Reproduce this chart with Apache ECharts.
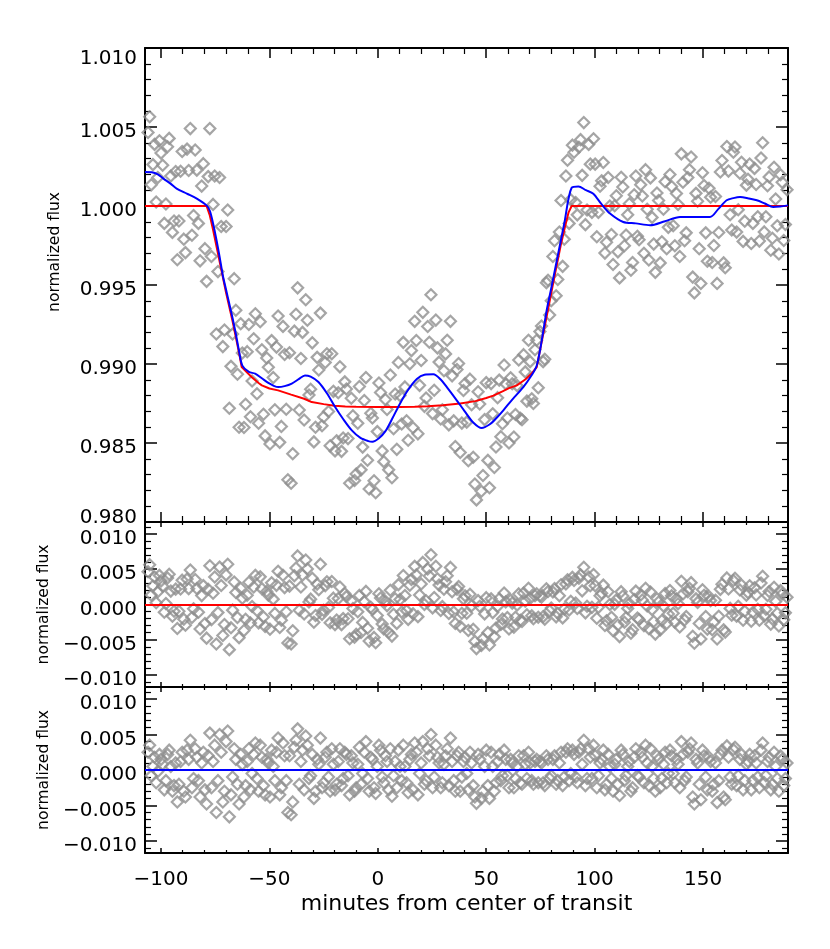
<!DOCTYPE html>
<html>
<head>
<meta charset="utf-8">
<title>transit light curve</title>
<script src="https://cdn.jsdelivr.net/npm/echarts@6/dist/echarts.min.js"></script>
<style>
  html, body { margin: 0; padding: 0; background: #fff; }
  #chart { width: 830px; height: 949px; }
</style>
</head>
<body>
<div id="chart"></div>
<script>
// time of each exposure, minutes from center of transit
const minutes = [
  -106, -104.5, -103, -101.5, -100, -98.5, -97, -95.5, -94, -92.5, -91, -89.5, -88, -86.5, -85, -83.5, -82, -80.5, -79,
  -77.5, -76, -74.5, -73, -71.5, -70, -68.5, -67, -65.5, -64, -62.5,
  -61, -59.5, -58, -56.5, -55, -53.5, -52, -50.5, -49, -47.5, -46, -44.5, -43, -41.5, -40,
  -38.5, -37, -35.5, -34, -32.5, -31, -29.5, -28, -26.5, -25, -23.5, -22, -20.5,
  -19, -17.5, -16, -14.5, -13, -11.5, -10, -8.5, -7, -5.5, -4, -2.5, -1, 0.5,
  2, 3.5, 5, 6.5, 8, 9.5, 11, 12.5, 14, 15.5, 17, 18.5, 20, 21.5, 23,
  24.5, 26, 27.5, 29, 30.5, 32, 33.5, 35, 36.5, 38, 39.5, 41, 42.5, 44, 45.5,
  47, 48.5, 50, 51.5, 53, 54.5, 56, 57.5, 59, 60.5, 62, 63.5, 65, 66.5, 68, 69.5, 71, 72.5,
  74, 75.5, 77, 78.5, 80, 81.5, 83, 84.5, 86, 87.5, 89,
  90.5, 92, 93.5, 95, 96.5, 98, 99.5, 101, 102.5, 104, 105.5, 107, 108.5, 110, 111.5, 113, 114.5, 116, 117.5, 119,
  120.5, 122, 123.5, 125, 126.5, 128, 129.5, 131, 132.5, 134, 135.5, 137, 138.5, 140, 141.5, 143, 144.5, 146, 147.5, 149,
  150.5, 152, 153.5, 155, 156.5, 158, 159.5, 161, 162.5, 164, 165.5, 167, 168.5, 170, 171.5, 173, 174.5, 176, 177.5, 179,
  180.5, 182, 183.5, 185, 186.5, 188,
  // second half of the cadence
  -105.25, -103.75, -102.25, -100.75, -99.25, -97.75, -96.25, -94.75, -93.25, -91.75, -90.25, -88.75, -87.25, -85.75, -84.25, -82.75, -81.25, -79.75, -78.25,
  -76.75, -75.25, -73.75, -72.25, -70.75, -69.25, -67.75, -66.25, -64.75, -63.25, -61.75,
  -60.25, -58.75, -57.25, -55.75, -54.25, -52.75, -51.25, -49.75, -48.25, -46.75, -45.25, -43.75, -42.25, -40.75, -39.25,
  -37.75, -36.25, -34.75, -33.25, -31.75, -30.25, -28.75, -27.25, -25.75, -24.25, -22.75, -21.25, -19.75,
  -18.25, -16.75, -15.25, -13.75, -12.25, -10.75, -9.25, -7.75, -6.25, -4.75, -3.25, -1.75, -0.25, 1.25,
  2.75, 4.25, 5.75, 7.25, 8.75, 10.25, 11.75, 13.25, 14.75, 16.25, 17.75, 19.25, 20.75, 22.25, 23.75,
  25.25, 26.75, 28.25, 29.75, 31.25, 32.75, 34.25, 35.75, 37.25, 38.75, 40.25, 41.75, 43.25, 44.75, 46.25,
  47.75, 49.25, 50.75, 52.25, 53.75, 55.25, 56.75, 58.25, 59.75, 61.25, 62.75, 64.25, 65.75, 67.25, 68.75, 70.25, 71.75, 73.25,
  74.75, 76.25, 77.75, 79.25, 80.75, 82.25, 83.75, 85.25, 86.75, 88.25, 89.75,
  91.25, 92.75, 94.25, 95.75, 97.25, 98.75, 100.25, 101.75, 103.25, 104.75, 106.25, 107.75, 109.25, 110.75, 112.25, 113.75, 115.25, 116.75, 118.25, 119.75,
  121.25, 122.75, 124.25, 125.75, 127.25, 128.75, 130.25, 131.75, 133.25, 134.75, 136.25, 137.75, 139.25, 140.75, 142.25, 143.75, 145.25, 146.75, 148.25, 149.75,
  151.25, 152.75, 154.25, 155.75, 157.25, 158.75, 160.25, 161.75, 163.25, 164.75, 166.25, 167.75, 169.25, 170.75, 172.25, 173.75, 175.25, 176.75, 178.25, 179.75,
  181.25, 182.75, 184.25, 185.75, 187.25, 188.75
]

// normalized flux (top panel)
const flux = [
  1.00465, 1.00134, 1.0039, 1.0018, 1.00335, 0.9989, 1.00375, 1.0019, 0.99905, 0.9966, 1.0022, 0.9979, 1.0036, 1.0049, 0.9994, 1.00227, 0.99653, 1.00268, 0.99523,
  1.0049, 1.0001, 0.9919, 1.0018, 0.9911, 0.9987, 0.9872, 0.9919, 0.9934, 0.986, 0.9907,
  0.98745, 0.9925, 0.98892, 0.99318, 0.98625, 0.9909, 0.98545, 0.9898, 0.99148, 0.9871, 0.99304, 0.98605, 0.9906, 0.98267, 0.98245,
  0.99208, 0.99482, 0.99035, 0.98646, 0.99277, 0.9884, 0.98507, 0.99042, 0.99322, 0.98665, 0.99065, 0.98482, 0.98827,
  0.98514, 0.98982, 0.98532, 0.98842, 0.98245, 0.98672, 0.98304, 0.98857, 0.98474, 0.98914, 0.98209, 0.98658, 0.98185, 0.9888,
  0.9845, 0.98775, 0.9833, 0.9828, 0.9881, 0.9901, 0.9862, 0.98855, 0.98517, 0.99085, 0.9927, 0.98558, 0.99022, 0.98732, 0.99237,
  0.99438, 0.98834, 0.99102, 0.98652, 0.98957, 0.9915, 0.9927, 0.9864, 0.98965, 0.9844, 0.98832, 0.98632, 0.98904, 0.9841, 0.9814,
  0.98747, 0.98294, 0.98882, 0.98217, 0.98685, 0.98475, 0.98898, 0.98622, 0.98875, 0.985, 0.98875, 0.9868, 0.99025, 0.98647, 0.9895, 0.9915, 0.9878, 0.9909,
  0.9885, 0.9924, 0.9903, 0.9953, 0.994, 0.9978, 0.99535, 1.00035, 0.9979, 1.0029, 1.0004,
  1.0034, 0.99944, 1.0042, 1.00528, 0.99975, 1.00265, 1.00426, 0.99805, 1.00125, 1.00275, 0.9977, 1.0, 0.9963, 1.00065, 0.99545, 1.0012, 0.99816, 1.00014, 0.99642, 1.0019,
  0.99787, 1.00063, 1.0023, 0.99658, 0.99928, 0.9958, 1.00035, 0.99774, 1.00154, 0.99865, 1.00123, 0.99748, 1.0001, 1.0033, 0.9978, 1.0018, 1.0031, 0.9945, 1.0003, 0.9951,
  1.0013, 0.9965, 1.00055, 0.9975, 0.9951, 1.00215, 0.9964, 1.00377, 0.99945, 1.0034, 0.99835, 1.00207, 0.99776, 1.00132, 1.00266, 0.9989, 1.00136, 0.99778, 1.004, 0.99932,
  1.00184, 0.99796, 1.00044, 0.99696, 1.0015, 0.99883,
  1.00565, 1.00262, 1.00025, 1.00413, 1.00258, 1.00013, 1.00428, 0.99833, 1.00218, 0.99905, 1.00345, 0.99705, 1.00225, 0.99815, 1.00354, 0.9989, 1.00126, 0.9973, 1.00186,
  0.9968, 1.0019, 0.99585, 0.9987, 0.99215, 0.99975, 0.98985, 0.9954, 0.98935, 0.99255, 0.98598,
  0.99078, 0.98666, 0.9916, 0.98812, 0.99268, 0.98682, 0.99038, 0.98494, 0.98914, 0.99107, 0.98504, 0.99238, 0.98714, 0.99071, 0.98432,
  0.99315, 0.98709, 0.992, 0.99407, 0.98804, 0.99134, 0.986, 0.98962, 0.98609, 0.9901, 0.98699, 0.99065, 0.9845,
  0.98818, 0.98447, 0.98887, 0.98528, 0.98783, 0.98263, 0.98625, 0.9833, 0.98769, 0.98391, 0.98688, 0.98261, 0.98572, 0.9882,
  0.98382, 0.98712, 0.9893, 0.9859, 0.9846, 0.988, 0.99137, 0.98641, 0.99001, 0.98597, 0.99149, 0.98865, 0.99327, 0.98785, 0.99138,
  0.98686, 0.99278, 0.99012, 0.9871, 0.99064, 0.98615, 0.98925, 0.98478, 0.99003, 0.98626, 0.98877, 0.98388, 0.98742, 0.9824, 0.98824,
  0.98195, 0.98648, 0.9839, 0.98876, 0.98345, 0.98787, 0.9854, 0.98994, 0.98658, 0.98913, 0.98538, 0.98863, 0.98656, 0.99059, 0.98765, 0.99015, 0.9875, 0.9915,
  0.99205, 0.99015, 0.99515, 0.9931, 0.9968, 0.99432, 0.99835, 0.99618, 1.0019, 0.9989, 1.00385,
  1.00022, 1.00372, 1.00194, 0.99882, 1.0039, 0.9996, 1.00265, 0.9996, 1.0016, 0.99702, 1.0018, 0.9982, 1.00002, 0.9971, 1.00182, 0.99748, 0.99945, 0.99593, 1.00071, 0.99808,
  1.00135, 0.99701, 0.99979, 1.00178, 0.99759, 1.00082, 0.9964, 0.99979, 0.9973, 1.00199, 0.99875, 1.00079, 0.9968, 1.0015, 0.9983, 1.0023, 0.9955, 1.0008, 0.9973, 1.0021,
  0.9983, 1.00112, 0.99642, 1.0006, 0.99832, 1.00288, 0.99609, 1.00221, 0.99848, 1.00373, 0.99976, 1.00277, 0.99904, 1.00169, 0.99763, 1.00238, 0.99932, 1.00304, 0.99836, 1.00128,
  0.9972, 1.00245, 0.99875, 1.00198, 0.99782, 1.00103
]

// flux minus transit model (middle panel)
const residTransit = [
  0.00465, 0.00134, 0.0039, 0.0018, 0.00335, -0.0011, 0.00375, 0.0019, -0.00095, -0.0034, 0.0022, -0.0021, 0.0036, 0.0049, -0.0006, 0.00227, -0.00347, 0.00268, -0.00477,
  0.0055, 0.0016, -0.0056, 0.0053, -0.0044, 0.0042, -0.0064, -0.0008, 0.0017, -0.0047, 0.0009,
  -0.0021, 0.00315, -0.00028, 0.00413, -0.0026, 0.00225, -0.0031, 0.00133, 0.00308, -0.00126, 0.00471, -0.00222, 0.0024, -0.00546, -0.00561,
  0.00408, 0.00689, 0.00249, -0.00134, 0.00505, 0.00076, -0.00251, 0.00289, 0.00572, -0.00081, 0.00323, -0.00258, 0.0009,
  -0.00221, 0.00249, -0.002, 0.00112, -0.00485, -0.00056, -0.00424, 0.00129, -0.00254, 0.00186, -0.00519, -0.0007, -0.00543, 0.00152,
  -0.00278, 0.00047, -0.00398, -0.00448, 0.00082, 0.00282, -0.00108, 0.00127, -0.00211, 0.00356, 0.00541, -0.00172, 0.00292, 0.00001, 0.00505,
  0.00705, 0.00099, 0.00366, -0.00086, 0.00217, 0.00408, 0.00526, -0.00105, 0.00218, -0.0031, 0.0008, -0.00123, 0.00146, -0.00352, -0.00625,
  -0.00025, -0.00484, 0.00097, -0.00575, -0.00115, -0.00333, 0.00081, -0.00205, 0.00038, -0.00347, 0.0002, -0.00182, 0.0015, -0.0024, 0.00048, 0.0023, -0.0016, 0.00125,
  -0.0018, 0.00105, -0.0021, 0.00185, -0.0005, 0.00225, -0.00125, 0.0028, -0.00065, 0.0035, 0.00045,
  0.0034, -0.00056, 0.0042, 0.00528, -0.00025, 0.00265, 0.00426, -0.00195, 0.00125, 0.00275, -0.0023, 0, -0.0037, 0.00065, -0.00455, 0.0012, -0.00184, 0.00014, -0.00358, 0.0019,
  -0.00213, 0.00063, 0.0023, -0.00342, -0.00072, -0.0042, 0.00035, -0.00226, 0.00154, -0.00135, 0.00123, -0.00252, 0.0001, 0.0033, -0.0022, 0.0018, 0.0031, -0.0055, 0.0003, -0.0049,
  0.0013, -0.0035, 0.00055, -0.0025, -0.0049, 0.00215, -0.0036, 0.00377, -0.00055, 0.0034, -0.00165, 0.00207, -0.00224, 0.00132, 0.00266, -0.0011, 0.00136, -0.00222, 0.004, -0.00068,
  0.00184, -0.00204, 0.00044, -0.00304, 0.0015, -0.00117,
  0.00565, 0.00262, 0.00025, 0.00413, 0.00258, 0.00013, 0.00428, -0.00167, 0.00218, -0.00095, 0.00345, -0.00295, 0.00225, -0.00185, 0.00354, -0.0011, 0.00126, -0.0027, 0.00216,
  -0.00215, 0.0039, -0.00115, 0.0027, -0.00285, 0.0057, -0.0033, 0.0032, -0.00185, 0.0023, -0.0037,
  0.00132, -0.00261, 0.00248, -0.00084, 0.00392, -0.00178, 0.00186, -0.0035, 0.00076, 0.00272, -0.00326, 0.00414, -0.00103, 0.00261, -0.00372,
  0.00518, -0.00081, 0.00417, 0.0063, 0.00035, 0.00372, -0.00156, 0.0021, -0.0014, 0.00266, -0.00043, 0.00326, -0.00285,
  0.00084, -0.00285, 0.00156, -0.00202, 0.00054, -0.00465, -0.00103, -0.00398, 0.00041, -0.00337, -0.0004, -0.00467, -0.00156, 0.00092,
  -0.00346, -0.00016, 0.00202, -0.00138, -0.00268, 0.00072, 0.0041, -0.00087, 0.00273, -0.00131, 0.0042, 0.00135, 0.00597, 0.00053, 0.00405,
  -0.00048, 0.00542, 0.00275, -0.0003, 0.00322, -0.00128, 0.0018, -0.00269, 0.00254, -0.00125, 0.00124, -0.00368, -0.00018, -0.00523, 0.00055,
  -0.0058, -0.00133, -0.00399, 0.0008, -0.00459, -0.00026, -0.00282, 0.00162, -0.00184, 0.00062, -0.00321, -0.00006, -0.00225, 0.00164, -0.00146, 0.00085, -0.00202, 0.00152,
  0.00122, -0.00172, 0.00222, -0.00088, 0.00178, -0.00175, 0.00125, -0.0019, 0.00292, -0.00078, 0.00385,
  0.00022, 0.00372, 0.00194, -0.00118, 0.0039, -0.0004, 0.00265, -0.0004, 0.0016, -0.00298, 0.0018, -0.0018, 0.00002, -0.0029, 0.00182, -0.00252, -0.00055, -0.00407, 0.00071, -0.00192,
  0.00135, -0.00299, -0.00021, 0.00178, -0.00241, 0.00082, -0.0036, -0.00021, -0.0027, 0.00199, -0.00125, 0.00079, -0.0032, 0.0015, -0.0017, 0.0023, -0.0045, 0.0008, -0.0027, 0.0021,
  -0.0017, 0.00112, -0.00358, 0.0006, -0.00168, 0.00288, -0.00391, 0.00221, -0.00152, 0.00373, -0.00024, 0.00277, -0.00096, 0.00169, -0.00237, 0.00238, -0.00068, 0.00304, -0.00164, 0.00128,
  -0.0028, 0.00245, -0.00125, 0.00198, -0.00218, 0.00103
]

// flux minus smooth fit (bottom panel)
const residSmooth = [
  0.0025, -0.0008, 0.0018, -0.0002, 0.0015, -0.0028, 0.0022, 0.0005, -0.0022, -0.0045, 0.0012, -0.003, 0.0028, 0.0042, -0.0012, 0.0018, -0.0038, 0.0025, -0.0048,
  0.0052, 0.0012, -0.006, 0.005, -0.0045, 0.004, -0.0066, -0.001, 0.0015, -0.0048, 0.0008,
  -0.0022, 0.003, -0.0005, 0.0038, -0.003, 0.0018, -0.0035, 0.001, 0.0028, -0.0015, 0.0045, -0.0025, 0.002, -0.006, -0.0063,
  0.0032, 0.0058, 0.0012, -0.0028, 0.0035, -0.0008, -0.004, 0.0015, 0.0045, -0.0018, 0.0025, -0.003, 0.0008,
  -0.002, 0.003, -0.0012, 0.0022, -0.0035, 0.001, -0.0025, 0.0032, -0.0005, 0.004, -0.003, 0.0015, -0.0033, 0.0035,
  -0.001, 0.002, -0.0028, -0.0037, 0.0012, 0.0028, -0.0015, 0.0005, -0.0032, 0.0022, 0.0038, -0.0035, 0.001, -0.002, 0.003,
  0.005, -0.001, 0.0018, -0.0025, 0.0008, 0.003, 0.0045, -0.0015, 0.002, -0.003, 0.0012, -0.0005, 0.0025, -0.0022, -0.0047,
  0.0015, -0.003, 0.0028, -0.004, 0.0005, -0.0018, 0.0022, -0.0008, 0.0015, -0.0025, 0.001, -0.0012, 0.002, -0.002, 0.0008, 0.0025, -0.0015, 0.0012,
  -0.0018, 0.001, -0.0022, 0.0015, -0.0008, 0.002, -0.0015, 0.0025, -0.001, 0.003, -0.0005,
  0.0022, -0.0018, 0.003, 0.0042, -0.0012, 0.0018, 0.0035, -0.0025, 0.001, 0.0028, -0.002, 0.0005, -0.003, 0.0015, -0.0036, 0.0022, -0.0008, 0.0012, -0.0025, 0.003,
  -0.001, 0.0018, 0.0035, -0.0022, 0.0005, -0.003, 0.0015, -0.0012, 0.0025, -0.0005, 0.002, -0.0018, 0.0008, 0.004, -0.0015, 0.0025, 0.0038, -0.0048, 0.001, -0.0042,
  0.002, -0.0028, 0.0012, -0.002, -0.0046, 0.0022, -0.0038, 0.0034, -0.001, 0.0029, -0.0022, 0.0015, -0.0028, 0.0008, 0.0022, -0.0015, 0.001, -0.0025, 0.0038, -0.0008,
  0.0018, -0.002, 0.0005, -0.003, 0.0015, -0.0012,
  0.0035, 0.0005, -0.0018, 0.0022, 0.0008, -0.0015, 0.0028, -0.003, 0.001, -0.002, 0.0025, -0.0038, 0.0015, -0.0025, 0.003, -0.0015, 0.001, -0.0028, 0.002,
  -0.0025, 0.0035, -0.0015, 0.0025, -0.003, 0.0055, -0.0035, 0.003, -0.002, 0.0022, -0.0038,
  0.0012, -0.0028, 0.0022, -0.0012, 0.0035, -0.0022, 0.0015, -0.0038, 0.0005, 0.0025, -0.0035, 0.0038, -0.0015, 0.002, -0.0045,
  0.0042, -0.002, 0.0028, 0.0048, -0.0012, 0.0022, -0.003, 0.0008, -0.0025, 0.0018, -0.001, 0.003, -0.0028,
  0.0012, -0.0022, 0.0025, -0.0008, 0.002, -0.003, 0.0008, -0.002, 0.0025, -0.0012, 0.0018, -0.0025, 0.0005, 0.0028,
  -0.0018, 0.0012, 0.003, -0.0008, -0.0025, 0.0005, 0.0035, -0.0018, 0.0015, -0.0028, 0.0025, -0.0005, 0.004, -0.0015, 0.002,
  -0.0025, 0.0035, 0.001, -0.0018, 0.002, -0.0022, 0.0012, -0.003, 0.0025, -0.001, 0.0018, -0.0028, 0.001, -0.0038, 0.0022,
  -0.004, 0.0005, -0.0022, 0.0025, -0.003, 0.0012, -0.0015, 0.0028, -0.0008, 0.0015, -0.0025, 0.0005, -0.0018, 0.002, -0.0012, 0.001, -0.002, 0.0015,
  0.0012, -0.0018, 0.002, -0.0012, 0.0015, -0.002, 0.001, -0.0022, 0.0025, -0.0015, 0.0028,
  -0.001, 0.0025, 0.0008, -0.0022, 0.003, -0.0012, 0.002, -0.0008, 0.0015, -0.0028, 0.0022, -0.0012, 0.0008, -0.002, 0.0028, -0.0015, 0.0005, -0.003, 0.0018, -0.0008,
  0.0025, -0.0018, 0.001, 0.003, -0.0012, 0.002, -0.0025, 0.0008, -0.0018, 0.0028, -0.0005, 0.0015, -0.0025, 0.0022, -0.001, 0.003, -0.0038, 0.0015, -0.002, 0.0028,
  -0.001, 0.0018, -0.003, 0.001, -0.0015, 0.0028, -0.0042, 0.0018, -0.002, 0.0032, -0.0008, 0.0022, -0.0015, 0.0012, -0.0028, 0.002, -0.001, 0.0028, -0.0018, 0.0012,
  -0.0028, 0.0025, -0.0012, 0.002, -0.0022, 0.001
]

// transit model (red)
const transitMin = [
  -107.4, -79, -77.5, -76, -74.5, -73, -71.5, -70, -68.5, -67, -65.5, -64, -62.8, -58, -55, -53.5, -50, -46, -40, -34,
  -30.5, -25, -20, -15, -10, 0, 10, 17, 23, 30, 38, 45, 50, 53.3, 57.5, 60.5, 64.1, 68, 71, 73.3,
  75.5, 78, 81.5, 84.5, 86.3, 88, 89.4, 189.2
]
const transitFlux = [
  1.0, 1.0, 0.9994, 0.9985, 0.9975, 0.9965, 0.9955, 0.9945, 0.9936, 0.9927, 0.9917, 0.9907, 0.9898, 0.98915, 0.9888, 0.98865, 0.98845, 0.98833, 0.98806, 0.9878,
  0.98759, 0.98746, 0.98736, 0.98731, 0.98729, 0.98728, 0.98728, 0.98729, 0.98732, 0.98739, 0.9875, 0.98765, 0.98785, 0.988, 0.98827, 0.98847, 0.98865, 0.98902, 0.9894, 0.9898,
  0.99135, 0.9931, 0.99555, 0.9976, 0.99867, 0.9996, 1.0, 1.0
]

// smooth fit (blue)
const smoothMin = [
  -107.4, -104.3, -101.5, -98.9, -95.5, -92.8, -88.1, -83.5, -79, -77.5, -76, -74.5, -73, -71.5, -70, -68.5, -67, -65.5, -64, -62.5,
  -59.5, -56.6, -53.5, -50.5, -48, -45.9, -43, -39.7, -36.5, -33.6, -31, -27.4, -23.5, -19.7, -16, -12, -8, -4.4, -2.5, 0.5,
  3.5, 6.5, 10.2, 14, 18, 21.5, 25.6, 29, 32, 36.4, 40, 44, 47.9, 51.5, 54.5, 57.9, 62, 67.1, 71, 73.3,
  75.5, 77.9, 80, 83, 86, 89.4, 92.5, 96, 99.4, 103, 107.1, 113.2, 119, 125.6, 132.5, 139.4, 146, 153.2, 157, 160.9,
  164, 167.1, 171, 174.8, 178.5, 182.4, 185.5, 189.2
]
const smoothFlux = [
  1.00215, 1.00213, 1.002, 1.00173, 1.0014, 1.0011, 1.00078, 1.00047, 1.00004, 0.9997, 0.9989, 0.9979, 0.9968, 0.9956, 0.9947, 0.9938, 0.9929, 0.9919, 0.9908, 0.9899,
  0.9895, 0.98939, 0.9891, 0.9888, 0.98862, 0.98854, 0.9886, 0.98876, 0.98904, 0.98928, 0.9892, 0.98886, 0.98815, 0.98728, 0.98652, 0.9858, 0.98532, 0.98512, 0.98508, 0.9853,
  0.98575, 0.9865, 0.98749, 0.98837, 0.98905, 0.98932, 0.98935, 0.98902, 0.9885, 0.9877, 0.98702, 0.9863, 0.98595, 0.98617, 0.98655, 0.98707, 0.98775, 0.98854, 0.9893, 0.98991,
  0.9914, 0.9934, 0.9948, 0.99685, 0.9989, 1.00116, 1.00124, 1.001, 1.00078, 1.00015, 0.99952, 0.99899, 0.9989, 0.99878, 0.99904, 0.9993, 0.9993, 0.9993, 0.9998, 1.00036,
  1.0005, 1.00057, 1.00048, 1.00036, 1.00016, 0.99994, 0.99997, 1.00004
]

const xMin = -107.4
const xMax = 189.2
const fontFamily = '"DejaVu Sans", Verdana, sans-serif'
const gray = '#8f8f8f'

const zip = (xs, ys) => xs.map((x, i) => [x, ys[i]])
const minus = (s) => s.replace('-', '\u2212')

// panel boxes: top / middle / bottom
const grids = [
  { left: 145, top: 48, width: 643, height: 474 },
  { left: 145, top: 522, width: 643, height: 165 },
  { left: 145, top: 687, width: 643, height: 166 },
]

const labelText = { color: '#000', fontSize: 20, fontFamily: fontFamily }

const xAxes = []
const yAxes = []
grids.forEach((g, i) => {
  const tickLen = i === 0 ? 10 : 5
  ;['bottom', 'top'].forEach((pos) => {
    const withLabel = i === 2 && pos === 'bottom'
    xAxes.push({
      type: 'value',
      gridIndex: i,
      position: pos,
      min: xMin,
      max: xMax,
      splitNumber: 6,
      axisLine: { show: true, onZero: false, lineStyle: { color: '#000', width: 2 } },
      axisTick: { show: true, inside: true, length: tickLen, lineStyle: { color: '#000', width: 1.5 } },
      minorTick: { show: true, splitNumber: 5, length: tickLen * 0.6, lineStyle: { color: '#000', width: 1.2 } },
      splitLine: { show: false },
      axisLabel: Object.assign({
        show: withLabel,
        showMinLabel: false,
        showMaxLabel: false,
        margin: 17,
        formatter: (v) => minus(String(v)),
      }, labelText),
      name: withLabel ? 'minutes from center of transit' : '',
      nameLocation: 'middle',
      nameGap: 40,
      nameTextStyle: { color: '#000', fontSize: 22, fontFamily: fontFamily },
    })
  })
  ;['left', 'right'].forEach((pos) => {
    const withLabel = pos === 'left'
    const y = {
      type: 'value',
      gridIndex: i,
      position: pos,
      axisLine: { show: true, onZero: false, lineStyle: { color: '#000', width: 2 } },
      axisTick: { show: true, inside: true, length: 12, lineStyle: { color: '#000', width: 1.5 } },
      minorTick: { show: true, splitNumber: 5, length: 6, lineStyle: { color: '#000', width: 1.2 } },
      splitLine: { show: false },
      axisLabel: Object.assign({
        show: withLabel,
        showMinLabel: i === 0,
        showMaxLabel: i === 0,
        margin: 8,
        // labels sit a little below their tick; the top and bottom ones of the flux panel stay inside
        formatter: (v) => {
          const s = minus(v.toFixed(3))
          if (i === 0 && v > 1.0099) return '{hi|' + s + '}'
          if (i === 0 && v < 0.9801) return '{lo|' + s + '}'
          return '{mid|' + s + '}'
        },
        rich: {
          hi: Object.assign({ padding: [22, 0, 0, 0] }, labelText),
          lo: Object.assign({ padding: [0, 0, 8, 0] }, labelText),
          mid: Object.assign({ padding: [10, 0, 0, 0] }, labelText),
        },
      }, labelText),
      name: withLabel ? 'normalized flux' : '',
      nameLocation: 'middle',
      nameGap: 82,
      nameTextStyle: { color: '#000', fontSize: 15.5, fontFamily: fontFamily, padding: [0, 0, 0, i === 0 ? 66 : 0] },
    }
    if (i === 0) {
      y.min = 0.98
      y.max = 1.01
      y.interval = 0.005
    } else {
      y.min = -0.0117
      y.max = 0.0117
      y.splitNumber = 5
    }
    yAxes.push(y)
  })
})

const diamond = {
  type: 'scatter',
  symbol: 'diamond',
  symbolSize: 11,
  itemStyle: { color: 'rgba(0,0,0,0)', borderColor: gray, borderWidth: 2.2 },
  silent: true,
  z: 2,
}

const zeroLine = (color) => ({
  symbol: 'none',
  silent: true,
  label: { show: false },
  lineStyle: { color: color, width: 2, type: 'solid' },
  data: [{ yAxis: 0 }],
})

const chart = echarts.init(document.getElementById('chart'), null, { renderer: 'canvas' })
chart.setOption({
  animation: false,
  backgroundColor: '#fff',
  grid: grids.map((g) => Object.assign({ outerBoundsMode: 'none' }, g)),
  xAxis: xAxes,
  yAxis: yAxes,
  series: [
    Object.assign({}, diamond, { xAxisIndex: 0, yAxisIndex: 0, data: zip(minutes, flux) }),
    {
      type: 'line', xAxisIndex: 0, yAxisIndex: 0, data: zip(transitMin, transitFlux),
      showSymbol: false, smooth: false, z: 3,
      lineStyle: { color: '#ff0000', width: 2 },
    },
    {
      type: 'line', xAxisIndex: 0, yAxisIndex: 0, data: zip(smoothMin, smoothFlux),
      showSymbol: false, smooth: 0.3, z: 4,
      lineStyle: { color: '#0000ff', width: 2 },
    },
    Object.assign({}, diamond, { xAxisIndex: 2, yAxisIndex: 2, data: zip(minutes, residTransit), markLine: zeroLine('#ff0000') }),
    Object.assign({}, diamond, { xAxisIndex: 4, yAxisIndex: 4, data: zip(minutes, residSmooth), markLine: zeroLine('#0000ff') }),
  ],
})
</script>
</body>
</html>
